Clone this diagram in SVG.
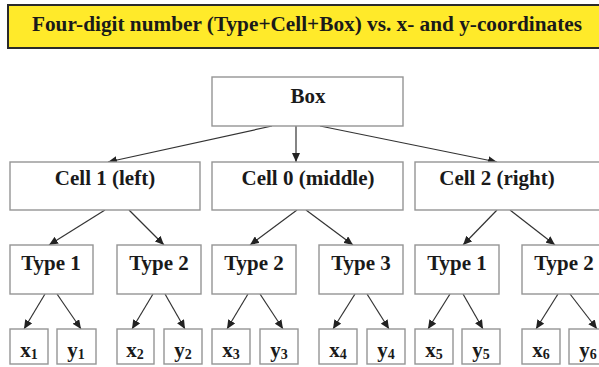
<svg xmlns="http://www.w3.org/2000/svg" width="599" height="367" viewBox="0 0 599 367">
<style>
.n{fill:#fff;stroke:#959595;stroke-width:1.4}
.t{font-family:'Liberation Serif','Times New Roman','DejaVu Serif',serif;font-weight:bold;font-size:21px;fill:#1a1a1a;text-anchor:middle}
.s{font-size:14px}
.c line{stroke:#333;stroke-width:1.2;marker-end:url(#ah)}
</style>
<defs>
<marker id="ah" markerUnits="userSpaceOnUse" markerWidth="10" markerHeight="8" refX="9" refY="4" orient="auto">
<path d="M0,0 L9,4 L0,8 Z" fill="#222"/>
</marker>
</defs>
<rect width="599" height="367" fill="#fff"/>
<g id="title">
<rect x="8" y="5" width="600" height="43" fill="#ffea2a" stroke="#2a2a2a" stroke-width="2"/>
<text class="t" x="307" y="31" textLength="550" lengthAdjust="spacingAndGlyphs">Four-digit number (Type+Cell+Box) vs. x- and y-coordinates</text>
</g>
<g class="c" id="connectors">
<line x1="272" y1="126" x2="108" y2="162"/>
<line x1="296" y1="126" x2="296" y2="162"/>
<line x1="320" y1="126" x2="497" y2="162"/>
<line x1="105" y1="210" x2="49" y2="245"/>
<line x1="129" y1="210" x2="164" y2="245"/>
<line x1="297" y1="210" x2="250" y2="245"/>
<line x1="306" y1="210" x2="353" y2="245"/>
<line x1="497" y1="210" x2="463" y2="245"/>
<line x1="510" y1="210" x2="555" y2="245"/>
<line x1="45" y1="294" x2="24" y2="329"/>
<line x1="57" y1="294" x2="81" y2="329"/>
<line x1="153" y1="294" x2="132" y2="329"/>
<line x1="165" y1="294" x2="185" y2="329"/>
<line x1="248" y1="294" x2="227" y2="329"/>
<line x1="260" y1="294" x2="283" y2="329"/>
<line x1="355" y1="294" x2="333" y2="329"/>
<line x1="367" y1="294" x2="389" y2="329"/>
<line x1="450" y1="294" x2="428" y2="329"/>
<line x1="463" y1="294" x2="483" y2="329"/>
<line x1="558" y1="294" x2="536" y2="329"/>
<line x1="570" y1="294" x2="597" y2="329"/>
</g>
<g id="box"><rect class="n" x="212" y="77" width="191" height="49"/><text class="t" x="308" y="103">Box</text></g>
<g id="cell1"><rect class="n" x="10" y="162" width="190" height="48"/><text class="t" x="105" y="185">Cell 1 (left)</text></g>
<g id="cell0"><rect class="n" x="212" y="162" width="191" height="48"/><text class="t" x="308" y="185">Cell 0 (middle)</text></g>
<g id="cell2"><rect class="n" x="415" y="162" width="200" height="48"/><text class="t" x="497" y="185">Cell 2 (right)</text></g>
<g id="type1a"><rect class="n" x="10" y="245" width="83" height="49"/><text class="t" x="51" y="270">Type 1</text></g>
<g id="type2a"><rect class="n" x="117" y="245" width="84" height="49"/><text class="t" x="159" y="270">Type 2</text></g>
<g id="type2b"><rect class="n" x="212" y="245" width="84" height="49"/><text class="t" x="254" y="270">Type 2</text></g>
<g id="type3"><rect class="n" x="319" y="245" width="84" height="49"/><text class="t" x="361" y="270">Type 3</text></g>
<g id="type1b"><rect class="n" x="415" y="245" width="84" height="49"/><text class="t" x="457" y="270">Type 1</text></g>
<g id="type2c"><rect class="n" x="522" y="245" width="84" height="49"/><text class="t" x="564" y="270">Type 2</text></g>
<g id="x1"><rect class="n" x="10" y="329" width="38" height="35"/><text class="t" x="29" y="357">x<tspan class="s" dy="2">1</tspan></text></g>
<g id="y1"><rect class="n" x="57" y="329" width="39" height="35"/><text class="t" x="76" y="357">y<tspan class="s" dy="2">1</tspan></text></g>
<g id="x2"><rect class="n" x="117" y="329" width="37" height="35"/><text class="t" x="135" y="357">x<tspan class="s" dy="2">2</tspan></text></g>
<g id="y2"><rect class="n" x="164" y="329" width="38" height="35"/><text class="t" x="183" y="357">y<tspan class="s" dy="2">2</tspan></text></g>
<g id="x3"><rect class="n" x="212" y="329" width="38" height="35"/><text class="t" x="231" y="357">x<tspan class="s" dy="2">3</tspan></text></g>
<g id="y3"><rect class="n" x="260" y="329" width="38" height="35"/><text class="t" x="279" y="357">y<tspan class="s" dy="2">3</tspan></text></g>
<g id="x4"><rect class="n" x="319" y="329" width="38" height="35"/><text class="t" x="338" y="357">x<tspan class="s" dy="2">4</tspan></text></g>
<g id="y4"><rect class="n" x="367" y="329" width="38" height="35"/><text class="t" x="386" y="357">y<tspan class="s" dy="2">4</tspan></text></g>
<g id="x5"><rect class="n" x="415" y="329" width="38" height="35"/><text class="t" x="434" y="357">x<tspan class="s" dy="2">5</tspan></text></g>
<g id="y5"><rect class="n" x="462" y="329" width="38" height="35"/><text class="t" x="481" y="357">y<tspan class="s" dy="2">5</tspan></text></g>
<g id="x6"><rect class="n" x="522" y="329" width="38" height="35"/><text class="t" x="541" y="357">x<tspan class="s" dy="2">6</tspan></text></g>
<g id="y6"><rect class="n" x="569" y="329" width="38" height="35"/><text class="t" x="588" y="357">y<tspan class="s" dy="2">6</tspan></text></g>
</svg>
